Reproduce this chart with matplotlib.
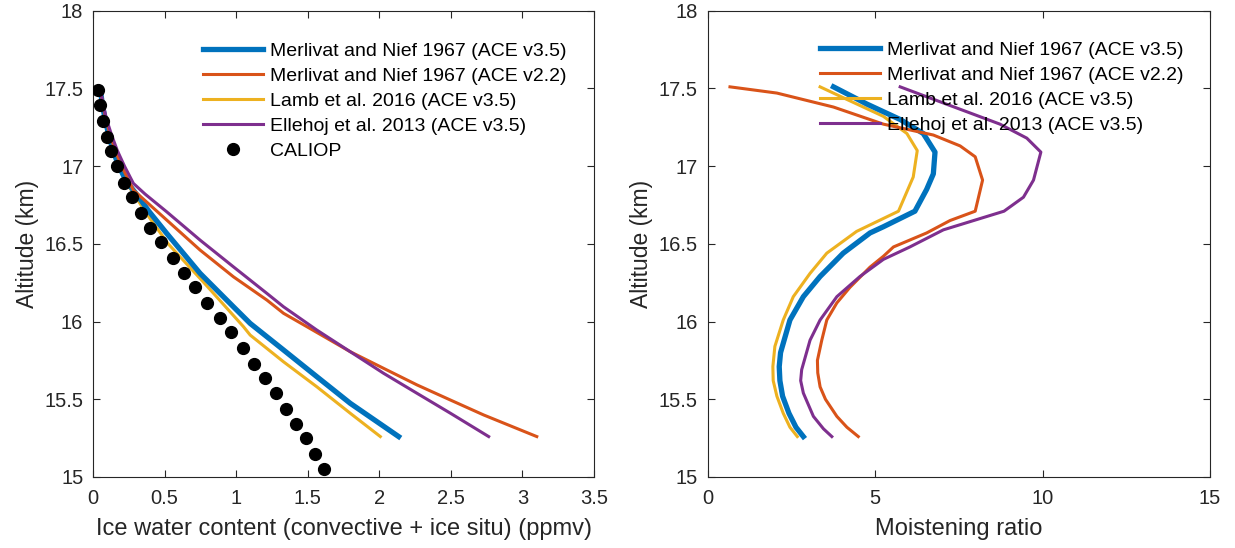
import numpy as np
import matplotlib.pyplot as plt

plt.rcParams['font.family'] = ['Liberation Sans', 'DejaVu Sans']

blue = '#0072BD'
orange = '#D95319'
yellow = '#EDB120'
purple = '#7E2F8E'
axcol = '#262626'

labels = ['Merlivat and Nief 1967 (ACE v3.5)', 'Merlivat and Nief 1967 (ACE v2.2)',
          'Lamb et al. 2016 (ACE v3.5)', 'Ellehoj et al. 2013 (ACE v3.5)']

# --- left panel: ice water content (ppmv) vs altitude (km)
alt_mn35 = [17.5, 17.4, 17.3, 17.2, 17.1, 17.0, 16.9, 16.8, 16.71, 16.567, 16.31, 16.095, 15.988,
            15.817, 15.645, 15.474, 15.26]
iwc_mn35 = [0.05, 0.065, 0.085, 0.11, 0.14, 0.18, 0.235, 0.32, 0.39, 0.515, 0.748, 0.981, 1.098,
            1.331, 1.564, 1.797, 2.135]

alt_mn22 = [17.5, 17.4, 17.3, 17.2, 17.1, 17.0, 16.846, 16.653, 16.46, 16.288, 16.138, 16.053, 15.967,
            15.806, 15.699, 15.592, 15.495, 15.399, 15.26]
iwc_mn22 = [0.05, 0.068, 0.09, 0.12, 0.155, 0.2, 0.282, 0.515, 0.748, 0.981, 1.215, 1.331, 1.494,
            1.797, 2.03, 2.264, 2.497, 2.729, 3.10]

alt_lamb = [17.5, 17.4, 17.3, 17.2, 17.1, 17.0, 16.9, 16.8, 16.7, 16.5, 16.25, 15.967, 15.913,
            15.741, 15.58, 15.41, 15.26]
iwc_lamb = [0.05, 0.063, 0.08, 0.105, 0.135, 0.175, 0.228, 0.30, 0.37, 0.525, 0.775, 1.051, 1.098,
            1.331, 1.564, 1.797, 2.007]

alt_ell = [17.5, 17.4, 17.3, 17.2, 17.1, 17.0, 16.889, 16.82, 16.706, 16.524, 16.352, 16.181, 16.095,
           15.945, 15.806, 15.667, 15.538, 15.41, 15.26]
iwc_ell = [0.05, 0.07, 0.095, 0.13, 0.17, 0.22, 0.282, 0.364, 0.515, 0.748, 0.981, 1.215, 1.331,
           1.564, 1.797, 2.03, 2.264, 2.497, 2.764]

alt_cal = [17.49, 17.39, 17.29, 17.19, 17.10, 17.0, 16.89, 16.80, 16.70, 16.60, 16.51, 16.41, 16.31,
           16.22, 16.12, 16.02, 15.93, 15.83, 15.73, 15.64, 15.54, 15.44, 15.34, 15.25, 15.15, 15.05]
iwc_cal = [0.037, 0.051, 0.072, 0.096, 0.126, 0.17, 0.217, 0.273, 0.336, 0.399, 0.476, 0.561, 0.636,
           0.715, 0.799, 0.886, 0.967, 1.047, 1.126, 1.205, 1.278, 1.348, 1.42, 1.487, 1.55, 1.617]

# --- right panel: moistening ratio vs altitude (km)
malt_mn35 = [17.51, 17.40, 17.30, 17.21, 17.09, 16.95, 16.85, 16.71, 16.61, 16.57, 16.44, 16.29,
             16.16, 16.01, 15.80, 15.71, 15.62, 15.52, 15.41, 15.32, 15.26]
mr_mn35 = [3.76, 4.75, 5.75, 6.44, 6.79, 6.74, 6.54, 6.19, 5.25, 4.85, 4.05, 3.36,
           2.86, 2.46, 2.18, 2.14, 2.16, 2.24, 2.43, 2.64, 2.86]

malt_mn22 = [17.51, 17.47, 17.38, 17.27, 17.20, 17.13, 17.06, 16.91, 16.71, 16.65, 16.57, 16.48,
             16.42, 16.35, 16.22, 16.12, 16.01, 15.88, 15.75, 15.67, 15.58, 15.50, 15.39, 15.32, 15.26]
mr_mn22 = [0.67, 2.07, 3.76, 5.25, 6.74, 7.54, 7.99, 8.21, 7.99, 7.24, 6.54, 5.55,
           5.25, 4.85, 4.25, 3.86, 3.56, 3.41, 3.28, 3.29, 3.36, 3.52, 3.86, 4.16, 4.50]

malt_lamb = [17.51, 17.42, 17.32, 17.21, 17.10, 16.93, 16.71, 16.58, 16.44, 16.31, 16.16, 16.01,
             15.84, 15.71, 15.62, 15.52, 15.41, 15.32, 15.26]
mr_lamb = [3.36, 4.25, 5.25, 5.95, 6.26, 6.14, 5.70, 4.45, 3.56, 3.06, 2.56, 2.26,
           2.01, 1.95, 1.96, 2.07, 2.26, 2.46, 2.68]

malt_ell = [17.51, 17.39, 17.27, 17.18, 17.09, 16.91, 16.80, 16.71, 16.59, 16.48, 16.40, 16.29,
            16.16, 16.01, 15.88, 15.69, 15.62, 15.54, 15.39, 15.31, 15.26]
mr_ell = [5.75, 7.24, 8.73, 9.53, 9.95, 9.73, 9.43, 8.85, 7.04, 6.04, 5.25, 4.55,
          3.86, 3.36, 3.06, 2.81, 2.78, 2.86, 3.16, 3.46, 3.71]

fig = plt.figure(figsize=(12.35, 5.48), dpi=100)
ax1 = fig.add_axes([0.0753, 0.1296, 0.4057, 0.8509])
ax2 = fig.add_axes([0.5729, 0.1296, 0.4069, 0.8509])

ax1.plot(iwc_mn35, alt_mn35, color=blue, lw=3.8, label=labels[0], zorder=3)
ax1.plot(iwc_mn22, alt_mn22, color=orange, lw=2.2, label=labels[1], zorder=3)
ax1.plot(iwc_lamb, alt_lamb, color=yellow, lw=2.2, label=labels[2], zorder=2)
ax1.plot(iwc_ell, alt_ell, color=purple, lw=2.2, label=labels[3], zorder=3)
ax1.plot(iwc_cal, alt_cal, 'o', color='k', ms=8.5, label='CALIOP', zorder=4)

ax2.plot(mr_mn35, malt_mn35, color=blue, lw=3.8, label=labels[0], zorder=3)
ax2.plot(mr_mn22, malt_mn22, color=orange, lw=2.2, label=labels[1], zorder=3)
ax2.plot(mr_lamb, malt_lamb, color=yellow, lw=2.2, label=labels[2], zorder=2)
ax2.plot(mr_ell, malt_ell, color=purple, lw=2.2, label=labels[3], zorder=3)

ax1.set_xlim(0, 3.5)
ax1.set_xticks(np.arange(0, 3.51, 0.5))
ax1.set_xticklabels(['0', '0.5', '1', '1.5', '2', '2.5', '3', '3.5'])
ax1.set_xlabel('Ice water content (convective + ice situ) (ppmv)', fontsize=17, color=axcol,
               labelpad=7)
ax2.set_xlim(0, 15)
ax2.set_xticks([0, 5, 10, 15])
ax2.set_xlabel('Moistening ratio', fontsize=17, color=axcol, labelpad=7)

for ax in (ax1, ax2):
    ax.set_ylim(15, 18)
    ax.set_yticks(np.arange(15, 18.01, 0.5))
    ax.set_yticklabels(['15', '15.5', '16', '16.5', '17', '17.5', '18'])
    ax.set_ylabel('Altitude (km)', fontsize=16.5, color=axcol, labelpad=4)
    ax.tick_params(direction='in', top=True, right=True, length=5, width=0.8,
                   labelsize=14.5, colors=axcol)
    ax.tick_params(axis='x', pad=9)
    ax.tick_params(axis='y', pad=7)
    for s in ax.spines.values():
        s.set_color(axcol)
        s.set_linewidth(0.8)

leg_kw = dict(frameon=False, fontsize=14, loc='upper left', borderpad=0, borderaxespad=0,
              handlelength=3.1, handletextpad=0.36, labelspacing=0.38)
ax1.legend(bbox_to_anchor=(0.219, 0.933), **leg_kw)
ax2.legend(bbox_to_anchor=(0.224, 0.935), **leg_kw)

plt.savefig('out.png', dpi=100)
